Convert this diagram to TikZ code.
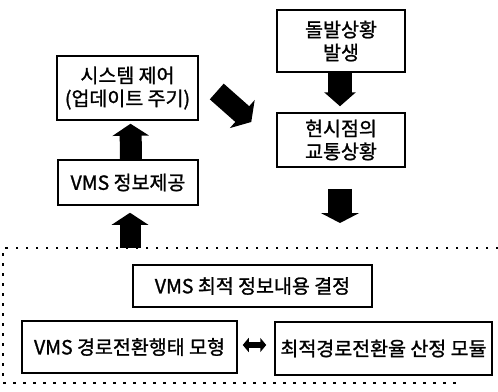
\documentclass[tikz,border=0pt]{standalone}
\usepackage{fontspec}
\newfontfamily\kr{Noto Sans CJK KR}[FakeBold=1.2]
\usetikzlibrary{arrows.meta,calc}
\begin{document}
\begin{tikzpicture}[x=1pt,y=-1pt,
  box/.style={draw,line width=1.5pt,inner sep=0pt,align=center,font=\kr\fontsize{19.5}{23}\selectfont},
  blk/.style n args={3}{line width=#1,-{Triangle[length=#3,width=#2]}},
  dots/.style={line width=2.5pt,dash pattern=on 2.5pt off 7.5pt}]
\useasboundingbox (0,0) rectangle (498,391);
\node[box,minimum width=128pt,minimum height=62pt] (inc) at (341,41) {돌발상황\\발생};
\node[box,minimum width=141pt,minimum height=64pt] (sys) at (127.5,88) {시스템 제어\\(업데이트 주기)};
\node[box,minimum width=128pt,minimum height=54pt] (cur) at (341,140) {현시점의\\교통상황};
\node[box,minimum width=140pt,minimum height=45pt] (vms) at (128,182.5) {VMS 정보제공};
\node[box,minimum width=239pt,minimum height=42pt] (opt) at (252.5,286) {VMS 최적 정보내용 결정};
\node[box,minimum width=215pt,minimum height=52pt] (beh) at (129.5,347) {VMS 경로전환행태 모형};
\node[box,minimum width=217pt,minimum height=53pt] (mod) at (383.5,348.5) {최적경로전환율 산정 모듈};
\coordinate (dtl) at (3,248);
\coordinate (dtr) at (498,248);
\coordinate (dbl) at (3,383);
\coordinate (dbr) at (462,383);
\draw[dots] (dtr) -- (dtl) -- (dbl) -- (dbr);
\draw[blk={24pt}{31pt}{14pt}] ([xshift=-1pt]inc.south) -- ([xshift=-1pt,yshift=6pt]cur.north);
\draw[blk={22pt}{36pt}{12pt}] ([xshift=3pt]vms.north) -- ([xshift=3pt,yshift=-3pt]sys.south);
\draw[blk={21pt}{36pt}{12pt}] ([xshift=2pt]vms.south |- dtl) -- ([xshift=2pt,yshift=-7pt]vms.south);
\draw[blk={24pt}{38pt}{10pt}] ([xshift=-1pt,yshift=-21pt]cur.south) -- ([xshift=-1pt,yshift=25pt]cur.south |- dtl);
\draw[blk={21pt}{37pt}{12pt}] ($(sys.east)+(18,3.5)$) -- ($(cur.west)+(-25,-18)$);
\draw[line width=6pt,{Triangle[length=6pt,width=14pt]}-{Triangle[length=6pt,width=14pt]}] ([xshift=5pt,yshift=2pt]beh.east) -- ([xshift=-8pt,yshift=3.5pt]mod.west);
\end{tikzpicture}
\end{document}
